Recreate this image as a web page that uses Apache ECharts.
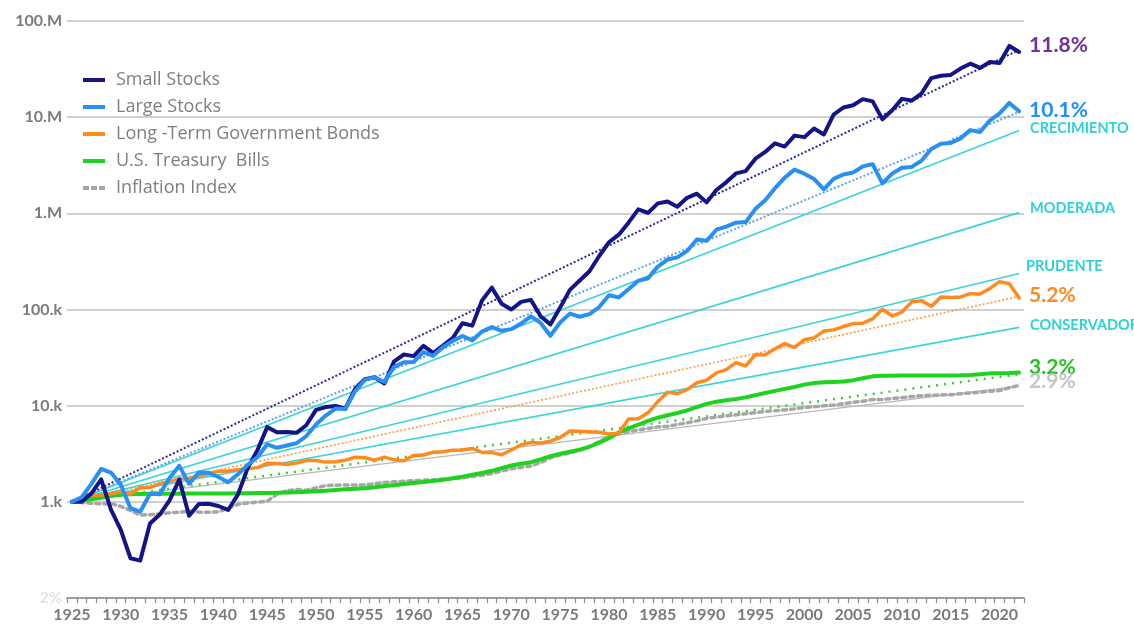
<!DOCTYPE html>
<html>
<head>
<meta charset="utf-8">
<title>Growth of 1.k, 1925-2022</title>
<script src="https://cdn.jsdelivr.net/npm/echarts@6/dist/echarts.min.js"></script>
<style>
  html, body { margin: 0; padding: 0; background: #ffffff; }
  #chart { width: 1134px; height: 635px; }
</style>
</head>
<body>
<div id="chart"></div>
<script>
// Year-end index levels, 1.k invested at the end of 1925 (values in thousands)
const FIRST_YEAR = 1925;
const LAST_YEAR = 2022;
const years = [];
for (let y = FIRST_YEAR; y <= LAST_YEAR; y++) years.push(String(y));

const smallStocks = [
  1, 1.003, 1.224, 1.71, 0.832, 0.515, 0.259, 0.245, 0.594, 0.738,
  1.035, 1.705, 0.716, 0.951, 0.954, 0.905, 0.823, 1.19, 2.242, 3.446,
  5.983, 5.287, 5.335, 5.223, 6.254, 9.039, 9.678, 9.926, 9.288, 14.9,
  18.89, 19.75, 17.0, 28.9, 34.05, 32.74, 41.92, 35.31, 42.06, 50.54,
  72, 68, 124, 169, 115, 100, 120, 126, 85, 70,
  105, 160, 200, 250, 360, 500, 600, 800, 1100, 1010,
  1270, 1330, 1170, 1450, 1600, 1300, 1750, 2100, 2600, 2750,
  3700, 4350, 5340, 4950, 6430, 6200, 7610, 6600, 10600, 12600,
  13300, 15400, 14600, 9500, 11800, 15500, 14900, 17600, 25500, 27000,
  27500, 32000, 36000, 32500, 37500, 36500, 55000, 47600
];

const largeStocks = [
  1, 1.116, 1.535, 2.204, 2.018, 1.516, 0.859, 0.789, 1.214, 1.197,
  1.767, 2.367, 1.538, 2.016, 2.008, 1.812, 1.602, 1.927, 2.427, 2.906,
  3.965, 3.645, 3.853, 4.065, 4.829, 6.36, 7.888, 9.336, 9.244, 14.11,
  18.56, 19.78, 17.65, 25.3, 28.32, 28.46, 36.11, 32.95, 40.47, 47.14,
  53.01, 47.67, 59.1, 65.64, 60.06, 62.47, 71.41, 84.96, 72.5, 53.31,
  73.14, 90.58, 84.08, 89.59, 106.1, 140.5, 133.6, 162.2, 198.7, 211.2,
  279.1, 330.7, 348.0, 406.5, 534.5, 517.5, 675.6, 727.4, 800.1, 810.5,
  1114, 1371, 1828, 2351, 2846, 2587, 2279, 1775, 2285, 2533,
  2657, 3077, 3246, 2045, 2586, 2976, 3039, 3525, 4667, 5306,
  5379, 6022, 7337, 7016, 9225, 10922, 14057, 11511
];

const govBonds = [
  1, 1.078, 1.174, 1.175, 1.215, 1.272, 1.204, 1.407, 1.406, 1.547,
  1.624, 1.746, 1.75, 1.847, 1.957, 2.076, 2.095, 2.162, 2.207, 2.269,
  2.514, 2.511, 2.445, 2.529, 2.692, 2.693, 2.588, 2.617, 2.713, 2.908,
  2.873, 2.717, 2.918, 2.734, 2.673, 3.041, 3.07, 3.282, 3.322, 3.438,
  3.462, 3.589, 3.259, 3.251, 3.086, 3.46, 3.917, 4.14, 4.094, 4.272,
  4.665, 5.447, 5.41, 5.346, 5.28, 5.071, 5.166, 7.251, 7.298, 8.427,
  11.04, 13.75, 13.37, 14.67, 17.32, 18.39, 21.94, 23.71, 28.03, 25.86,
  34.04, 33.73, 39.07, 44.18, 40.22, 48.56, 50.64, 59.64, 61.39, 66.5,
  71.38, 72.13, 79.8, 100.5, 85.5, 94.1, 119.6, 123.7, 107.8, 134.5,
  133.5, 135.1, 146.2, 144.7, 165.0, 194.7, 185.7, 131.9
];

const treasuryBills = [
  1, 1.033, 1.065, 1.103, 1.155, 1.183, 1.196, 1.207, 1.211, 1.213,
  1.215, 1.217, 1.221, 1.221, 1.221, 1.221, 1.222, 1.225, 1.229, 1.233,
  1.237, 1.242, 1.248, 1.258, 1.272, 1.287, 1.306, 1.328, 1.352, 1.364,
  1.385, 1.419, 1.464, 1.486, 1.53, 1.571, 1.604, 1.648, 1.7, 1.76,
  1.829, 1.916, 1.997, 2.101, 2.239, 2.385, 2.49, 2.585, 2.764, 2.986,
  3.159, 3.319, 3.489, 3.74, 4.128, 4.592, 5.267, 5.822, 6.335, 6.959,
  7.496, 7.958, 8.393, 8.926, 9.673, 10.43, 11.01, 11.4, 11.73, 12.19,
  12.87, 13.54, 14.25, 14.94, 15.64, 16.56, 17.2, 17.48, 17.66, 17.87,
  18.42, 19.29, 20.17, 20.49, 20.51, 20.54, 20.55, 20.56, 20.58, 20.58,
  20.59, 20.66, 20.84, 21.21, 21.67, 21.79, 21.8, 22.12
];

const inflationIndex = [
  1, 0.985, 0.965, 0.955, 0.957, 0.899, 0.814, 0.73, 0.734, 0.749,
  0.771, 0.78, 0.804, 0.782, 0.778, 0.786, 0.862, 0.942, 0.972, 0.993,
  1.015, 1.199, 1.307, 1.343, 1.318, 1.395, 1.477, 1.49, 1.499, 1.492,
  1.497, 1.54, 1.586, 1.614, 1.638, 1.662, 1.673, 1.694, 1.721, 1.741,
  1.775, 1.834, 1.888, 1.972, 2.09, 2.208, 2.281, 2.358, 2.56, 2.873,
  3.068, 3.215, 3.43, 3.745, 4.234, 4.763, 5.18, 5.38, 5.58, 5.8,
  6.02, 6.09, 6.36, 6.64, 6.95, 7.38, 7.61, 7.83, 8.03, 8.24,
  8.45, 8.73, 8.88, 9.02, 9.26, 9.58, 9.73, 9.96, 10.15, 10.49,
  10.85, 11.12, 11.57, 11.58, 11.9, 12.08, 12.44, 12.65, 12.84, 12.93,
  13.02, 13.29, 13.57, 13.83, 14.15, 14.34, 15.36, 16.25
];

// Compound annual growth rates (%) of each asset class over the period
const assetRates = [11.8, 10.1, 5.2, 3.2, 2.9];
// Model portfolio growth rates (%)
const profileNames = ['CRECIMIENTO', 'MODERADA', 'PRUDENTE', 'CONSERVADOR'];
const profileRates = [9.6, 7.4, 5.8, 4.4];

// Y axis labels, one per decade (values in thousands)
const yTickLabels = ['2%', '1.k', '10.k', '100.k', '1.M', '10.M', '100.M'];

const FONT = 'Lato, "Open Sans", sans-serif';

// Straight line on the log scale: constant growth from the 1925 start value
function growthLine(rate) {
  const n = years.length - 1;
  return [[years[0], 1], [years[n], Math.pow(1 + rate / 100, n)]];
}

function trendSeries(name, rate, lineStyle, labelColor, offset) {
  return {
    name: name,
    type: 'line',
    data: growthLine(rate),
    symbol: 'none',
    silent: true,
    z: 2,
    lineStyle: lineStyle,
    endLabel: {
      show: true,
      formatter: rate.toFixed(1) + '%',
      color: labelColor,
      fontFamily: FONT,
      fontWeight: 'bold',
      fontSize: 21,
      distance: 10,
      offset: offset
    }
  };
}

const profileOffsets = [[3, -2], [3, -4], [-1, -7], [3, -2]];
const profileSeries = profileNames.map((name, i) => ({
  name: name,
  type: 'line',
  data: growthLine(profileRates[i]),
  symbol: 'none',
  silent: true,
  z: 1,
  lineStyle: { color: '#3ad4d8', width: 1.6 },
  endLabel: {
    show: true,
    formatter: name,
    color: '#2fd0d6',
    fontFamily: FONT,
    fontWeight: 'bold',
    fontSize: 14.5,
    distance: 8,
    offset: profileOffsets[i]
  }
}));

function assetSeries(name, values, color, width, type) {
  return {
    name: name,
    type: 'line',
    data: values,
    symbol: 'none',
    z: 5,
    lineStyle: { color: color, width: width, type: type || 'solid', cap: 'round', join: 'round' },
    itemStyle: { color: color }
  };
}

// Legend keys: short bars, dashed for the inflation index
const barIcon = 'rect';
const dashIcon = 'path://M0,0h6v4h-6z M8,0h6v4h-6z M16,0h6v4h-6z';

const chart = echarts.init(document.getElementById('chart'), null, { renderer: 'canvas' });

chart.setOption({
  animation: false,
  backgroundColor: '#ffffff',
  grid: { left: 67, right: 110, top: 21, bottom: 37, containLabel: false },
  legend: {
    orient: 'vertical',
    left: 78,
    top: 66,
    itemGap: 9,
    itemWidth: 22,
    itemHeight: 4,
    data: [
      { name: 'Small Stocks', icon: barIcon },
      { name: 'Large Stocks', icon: barIcon },
      { name: 'Long -Term Government Bonds', icon: barIcon },
      { name: 'U.S. Treasury  Bills', icon: barIcon },
      { name: 'Inflation Index', icon: dashIcon }
    ],
    textStyle: { color: '#7f7f7f', fontSize: 18, fontFamily: '"Open Sans", sans-serif', lineHeight: 14, padding: [0, 0, 0, 6] }
  },
  xAxis: {
    type: 'category',
    data: years,
    boundaryGap: true,
    axisLine: { lineStyle: { color: '#8c8c8c', width: 1.5 } },
    axisTick: { show: true, interval: 0, length: 5, lineStyle: { color: '#8c8c8c', width: 1.2 } },
    axisLabel: {
      interval: 4,
      color: '#7a7a7a',
      fontFamily: FONT,
      fontWeight: 'bold',
      fontSize: 16,
      margin: 9
    },
    splitLine: { show: false }
  },
  yAxis: {
    type: 'log',
    logBase: 10,
    min: 0.1,
    max: 100000,
    splitNumber: 6,
    axisLine: { show: false },
    axisTick: { show: false },
    axisLabel: {
      margin: 5,
      color: '#7a7a7a',
      fontFamily: FONT,
      fontWeight: 'bold',
      fontSize: 16,
      formatter: function (v) {
        const i = Math.round(Math.log10(v)) + 1;
        const text = yTickLabels[i] || '';
        return i === 0 ? '{faint|' + text + '}' : text;
      },
      rich: {
        faint: { color: '#e3e3e3', fontFamily: FONT, fontWeight: 'bold', fontSize: 16 }
      }
    },
    splitLine: { show: true, lineStyle: { color: '#d0d0d0', width: 2 } }
  },
  series: [
    ...profileSeries,
    trendSeries('Small trend', assetRates[0], { color: '#2a2a9a', width: 2, type: [2, 2] }, '#7030a0', [0, -5]),
    trendSeries('Large trend', assetRates[1], { color: '#5aa2f2', width: 2, type: [2, 2] }, '#1e8fff', [0, -2]),
    trendSeries('Bonds trend', assetRates[2], { color: '#ff9a40', width: 1.6, type: [2, 2] }, '#ff8a1e', [0, -1]),
    trendSeries('Bills trend', assetRates[3], { color: '#2ed12e', width: 2.5, type: [2, 6] }, '#22c522', [0, -7]),
    trendSeries('Inflation trend', assetRates[4], { color: '#b8b8b8', width: 1.3 }, '#c4c4c4', [0, -5]),
    assetSeries('Inflation Index', inflationIndex, '#a6a6a6', 3.5, [4, 4]),
    assetSeries('U.S. Treasury  Bills', treasuryBills, '#1ed31e', 4),
    assetSeries('Long -Term Government Bonds', govBonds, '#ff8a1e', 3.5),
    assetSeries('Small Stocks', smallStocks, '#141489', 4),
    assetSeries('Large Stocks', largeStocks, '#2a8ff2', 4)
  ]
});
</script>
</body>
</html>
